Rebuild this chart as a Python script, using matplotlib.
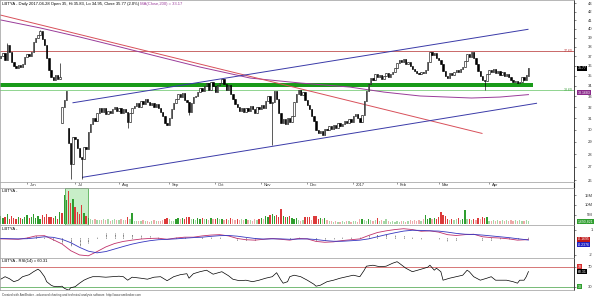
import matplotlib
matplotlib.use("Agg")
import matplotlib.pyplot as plt
import numpy as np
import pandas as pd
from matplotlib.patches import Rectangle
from matplotlib.transforms import blended_transform_factory

plt.rcParams['font.family'] = ['Liberation Sans', 'DejaVu Sans']

W, H = 600, 298

# trading calendar (NYSE holidays in the window)
holidays = ['2016-05-30', '2016-07-04', '2016-09-05', '2016-11-24', '2016-12-26',
            '2017-01-02', '2017-01-16', '2017-02-20', '2017-04-14']

# daily closes (2016-05-13 .. 2017-04-28)
close = [37.0, 37.3, 36.6, 38.2, 37.5,
         36.4, 36.0, 35.8, 36.1, 35.9, 36.2,
         36.9, 37.2, 37.0, 37.4,
         38.5, 39.0, 39.3, 39.8,
         38.9, 38.2, 36.8, 35.6,
         34.9, 34.6, 35.1, 34.7, 34.9,
         32.0, 32.7, 33.5, 28.9, 27.2,
         29.4, 29.2, 28.5, 27.8, 27.6, 28.6, 28.4, 29.8, 30.5, 31.0, 30.8, 31.5, 31.9,
         31.6, 31.9, 31.4, 31.7, 31.5, 31.8, 32.0,
         31.7, 31.9, 31.5, 31.8, 31.6,
         30.7, 31.5, 31.9,
         32.1, 32.4, 32.0, 32.6, 32.3, 32.8, 32.5, 32.2, 32.4, 32.0, 32.3, 31.9, 31.6,
         31.2, 30.6, 30.4, 31.0, 31.8, 32.4,
         32.8, 33.2, 32.9, 33.3, 32.7, 32.5, 31.6,
         32.4, 32.9, 33.0, 33.4, 33.8, 33.5, 34.0, 34.3,
         33.6, 34.4, 34.0, 33.4, 34.1, 34.3, 34.7,
         34.2, 33.6, 34.1, 33.2,
         32.8, 32.3, 32.0, 31.7, 31.9,
         31.6, 31.9, 31.7, 32.1, 31.8, 31.5, 32.0, 31.8, 32.2, 31.9,
         32.6, 33.0, 32.4, 32.5,
         33.5, 32.8, 31.5, 30.6,
         30.9, 30.5, 31.0, 30.7, 31.2,
         32.5, 33.2, 33.6, 33.1, 33.4, 32.7,
         32.2, 31.8, 31.2, 30.8,
         30.0, 29.7, 29.9, 29.6, 30.1,
         30.0, 30.3, 30.1, 30.4, 30.2, 30.6, 30.3, 30.5, 30.8, 30.6, 30.9, 30.7,
         31.2, 31.4, 31.0, 30.7, 31.3,
         32.6, 33.5, 34.2, 34.8, 34.6,
         35.2, 34.9, 35.1, 34.7, 35.0, 35.3, 34.9, 35.2, 35.4, 35.8,
         36.3, 36.6, 36.4, 36.7, 36.2, 36.4, 36.0,
         35.7, 35.5, 35.3, 35.2, 35.4, 35.3, 35.6,
         36.4, 37.5, 37.1,
         37.3, 36.8, 36.6, 36.2, 35.5, 35.0, 34.8,
         35.3, 35.1, 35.4, 35.6, 35.4, 35.7, 35.9,
         36.5, 37.2, 36.9, 37.4, 36.8, 36.2,
         35.5, 35.0, 34.6, 34.5,
         35.2, 35.6, 35.4, 35.7, 35.3, 35.5,
         35.1, 35.4, 35.0, 35.2, 34.9,
         34.6, 34.4, 34.5, 34.3, 34.4,
         34.9, 34.6, 35.1, 35.77]
# opens follow the previous close except on these gap days
open_fix = {0: 36.8, 28: 30.6, 31: 30.2, 241: 35.0}
high_fix = {3: 38.4, 18: 39.9, 27: 36.3, 241: 35.83}
low_fix = {32: 26.1, 37: 26.1, 58: 30.2, 86: 31.3, 124: 28.7, 221: 33.6, 241: 34.95}

# volume, millions of shares
volume = [4.5, 3.2, 3.8, 5.5, 3.0, 4.2, 3.5, 2.9, 4.0, 3.3, 2.9, 3.6, 4.8, 3.1,
          3.9, 5.2, 3.4, 4.4, 2.9, 4.6, 3.8, 5.6, 3.6, 4.0, 3.2, 4.1, 2.9, 6.5,
          6.0, 15.0, 12.5, 17.0, 11.0, 13.0, 9.0, 6.5, 5.5, 10.0, 6.0, 4.5, 3.5,
          2.6, 2.4, 2.7, 2.2, 2.5, 2.1, 2.7, 2.3, 2.6, 2.0, 2.4, 2.7, 2.1, 2.3, 2.7, 2.2, 2.5, 3.6, 2.6,
          5.7,
          2.0, 1.6, 1.8, 1.5, 2.2, 1.7, 1.9, 1.4, 1.8, 2.1, 1.6, 1.5, 1.9, 2.3, 2.8, 3.2, 2.6, 2.0, 1.8,
          2.9, 3.4, 2.6, 3.1, 2.8, 3.6, 3.9, 2.7, 3.0, 2.5, 3.3, 2.8, 3.5, 2.6, 3.0, 2.4, 3.2, 2.7, 2.9, 3.4, 2.6,
          2.8, 2.3, 3.0, 2.5, 3.3, 2.7, 2.2, 2.9, 2.4, 2.6, 2.1, 2.8, 2.3, 2.5, 2.0, 2.7, 2.4, 2.9, 3.2, 2.6,
          4.2, 3.8, 4.6, 5.2, 4.4, 4.8, 3.9, 7.8, 4.5, 4.0, 3.6, 4.3, 3.2, 2.9, 3.4,
          2.2, 1.9, 2.4, 3.6, 4.0, 3.8, 2.5, 4.3, 4.1, 3.0, 3.5, 2.6, 3.2, 2.3, 2.0,
          1.5, 1.2, 1.8, 1.4, 1.0, 1.6, 1.3, 1.9, 1.5, 1.1, 1.7, 2.0, 1.4,
          2.6, 3.0, 2.2, 1.8, 2.8, 2.4, 1.9, 2.5, 3.1, 2.0, 2.3, 1.7, 2.6,
          1.6, 1.2, 1.9, 1.4, 1.8, 1.1, 2.0, 1.5, 1.3, 1.7,
          2.2, 1.8, 2.5, 2.0, 2.4, 1.9, 2.6,
          4.6,
          3.0, 3.5, 2.6, 3.3, 2.8, 3.6,
          6.2, 4.6, 4.2,
          2.8, 2.4, 3.0, 2.2, 2.6, 3.1, 2.5, 2.9,
          7.2,
          2.6, 3.0, 2.3, 2.8, 2.5, 3.1, 2.7,
          3.6, 3.4, 3.8,
          2.0, 1.6, 2.3, 1.8, 2.2, 1.5, 2.4, 1.9, 2.1, 1.7, 2.5, 1.8, 2.2, 1.6, 2.4, 2.0, 1.7, 2.3, 1.69]

# 200-day moving average (bar index, value)
ma200_idx = [0, 18, 36, 54.5, 72.7, 91, 114, 137, 159.5, 175, 191.5, 215, 228, 241]
ma200 = [41.03, 40.11, 39.09, 37.99, 36.92, 35.88, 34.77, 34.28, 33.89, 33.41, 33.04, 32.85, 32.94, 33.17]

# drawn trend lines: (bar index, price) end points
red_trend_idx = [0, 219.8]
red_trend = [41.6, 29.7]
chan_hi_idx = [33.0, 240.8]
chan_hi = [32.41, 39.95]
chan_lo_idx = [37.4, 244.7]
chan_lo = [26.21, 32.36]
resist = 37.6
support = 33.6
band = (33.85, 34.27)
band_end = 243.0

# MACD(12,26) and signal(9)
macd_idx = list(range(0, 241, 4)) + [241]
macd = [-0.10, -0.12, -0.15, 0.00, 0.25, 0.28, -0.20, -0.70, -1.50, -2.00, -2.10, -1.60,
        -1.05, -0.65, -0.40, -0.25, -0.12, -0.05, -0.02, -0.15, 0.00, 0.10, 0.10, 0.25,
        0.35, 0.40, 0.25, -0.05, -0.20, -0.25, -0.15, -0.05, -0.15, -0.25, -0.05, -0.10,
        -0.40, -0.50, -0.45, -0.30, -0.20, -0.10, 0.30, 0.65, 0.85, 1.00, 1.10, 1.00,
        0.80, 0.85, 0.70, 0.40, 0.30, 0.40, 0.45, 0.15, 0.05, 0.00, -0.10, -0.25, -0.20, -0.17]
signal = [-0.05, -0.08, -0.10, -0.08, 0.02, 0.15, 0.08, -0.15, -0.55, -1.10, -1.55, -1.75,
          -1.60, -1.30, -1.00, -0.72, -0.50, -0.32, -0.20, -0.15, -0.10, -0.02, 0.05, 0.10,
          0.20, 0.28, 0.30, 0.22, 0.08, -0.05, -0.12, -0.10, -0.10, -0.15, -0.12, -0.10,
          -0.18, -0.30, -0.38, -0.38, -0.32, -0.25, -0.10, 0.15, 0.40, 0.62, 0.82, 0.92,
          0.90, 0.85, 0.82, 0.70, 0.55, 0.45, 0.42, 0.35, 0.25, 0.15, 0.05, -0.08, -0.20, -0.24]

# RSI(14)
rsi_idx = [0, 2, 4, 6, 8, 10, 13, 15, 17, 18, 20, 21, 23, 24, 26, 28, 29, 31, 32, 34, 36, 38,
           40, 42, 45, 48, 51, 54, 56, 58, 60, 64, 67, 70, 73, 76, 79, 82, 85, 86, 88, 91, 94,
           97, 101, 104, 106, 109, 112, 115, 118, 121, 124, 126, 128, 129, 131, 132, 134, 137,
           140, 143, 144, 146, 149, 152, 155, 158, 161, 164, 166, 167, 170, 173, 176, 179, 181,
           182, 185, 188, 192, 195, 196, 198, 199, 201, 202, 205, 208, 211, 213, 214, 216, 219,
           222, 224, 226, 228, 231, 234, 236, 237, 239, 240, 241]
rsi = [45, 50, 46, 40, 43, 50, 54, 60, 65, 62, 50, 40, 33, 31, 30, 31, 27, 23, 28, 30, 37, 43,
       47, 50, 50, 49, 50, 51, 50, 43, 49, 47, 45, 49, 50, 42, 50, 54, 56, 47, 56, 60, 63,
       55, 60, 52, 45, 42, 43, 40, 43, 47, 50, 58, 43, 37, 40, 50, 53, 50,
       43, 35, 31, 33, 40, 43, 47, 50, 53, 50, 63, 71, 73, 70, 71, 77, 80,
       77, 67, 60, 65, 69, 73, 63, 67, 60, 43, 47, 50, 53, 63, 60, 50, 43,
       47, 50, 43, 43, 43, 40, 37, 43, 43, 50, 60.31]

n = len(close)
x = np.arange(n)
c = np.array(close)
o = np.concatenate([[c[0]], c[:-1]])
for k, v in open_fix.items():
    o[k] = v
hi = np.maximum(o, c)
lo = np.minimum(o, c)
for k, v in high_fix.items():
    hi[k] = v
for k, v in low_fix.items():
    lo[k] = v

dates = pd.date_range(end='2017-04-28', periods=n,
                      freq=pd.offsets.CustomBusinessDay(holidays=holidays))
month_idx = [i for i in range(1, n) if dates[i].month != dates[i - 1].month]
month_lbl = [str(dates[i].year) if dates[i].month == 1 else dates[i].strftime('%b')
             for i in month_idx]

fig = plt.figure(figsize=(W / 100, H / 100), dpi=100)

def px_axes(y0, y1):
    return fig.add_axes([0, 1 - y1 / H, 574 / W, (y1 - y0) / H])

XLIM = (-0.32, 261.8)
FS = 3.0
GREY = '#9a9a9a'

def style(ax):
    ax.set_xlim(*XLIM)
    ax.set_xticks([])
    for s in ['top', 'bottom', 'left']:
        ax.spines[s].set_color(GREY)
        ax.spines[s].set_linewidth(0.5)
    ax.spines['right'].set_color('#202020')
    ax.spines['right'].set_linewidth(0.6)
    ax.yaxis.tick_right()
    ax.tick_params(axis='y', direction='out', length=1.5, width=0.4, pad=12,
                   labelsize=FS, colors='#303030')

def right_labels(ax):
    for lbl in ax.get_yticklabels():
        lbl.set_horizontalalignment('right')

def value_box(ax, y, txt, fc, tc='white', dy=0):
    tr = blended_transform_factory(ax.transAxes, ax.transData)
    ax.annotate(txt, xy=(1.0, y), xycoords=tr, xytext=(2.5, dy), textcoords='offset points',
                ha='left', va='center', fontsize=FS * 0.85, color=tc, annotation_clip=False,
                bbox=dict(boxstyle='square,pad=0.15', fc=fc, ec='none'))

def title(ypx, parts):
    t = fig.text(2 / W, 1 - ypx / H, parts[0][0], color=parts[0][1], fontsize=FS, va='center')
    for s, col in parts[1:]:
        t = ax_p.annotate(s, xy=(1, 0.5), xycoords=t, va='center', ha='left',
                          color=col, fontsize=FS, annotation_clip=False)

# ---- price panel
ax_p = px_axes(0, 182)
style(ax_p)
ax_p.set_yscale('log')
ax_p.set_ylim(25.86, 43.43)
ax_p.set_yticks(range(26, 44))
ax_p.set_yticklabels([str(v) for v in range(26, 44)])
ax_p.yaxis.set_minor_locator(matplotlib.ticker.NullLocator())
right_labels(ax_p)

ax_p.add_patch(Rectangle((XLIM[0], band[0]), band_end - XLIM[0], band[1] - band[0],
                         facecolor='#199a19', edgecolor='none', zorder=2))
ax_p.axhline(support, color='#8fd48f', lw=0.7, zorder=2)
ax_p.axhline(resist, color='#c05050', lw=0.6, zorder=2)
ax_p.plot(ma200_idx, ma200, color='#9a3c9a', lw=0.7, zorder=2.5)
ax_p.plot(red_trend_idx, red_trend, color='#d8505a', lw=0.7, zorder=2.5)
ax_p.plot(chan_hi_idx, chan_hi, color='#3a3aa8', lw=0.7, zorder=2.5)
ax_p.plot(chan_lo_idx, chan_lo, color='#3a3aa8', lw=0.7, zorder=2.5)

ax_p.vlines(x, lo, hi, color='black', lw=0.45, zorder=3)
up = c >= o
body = np.maximum(np.abs(c - o), 0.04)
ax_p.bar(x[up], body[up], bottom=o[up], width=0.62, facecolor='white',
         edgecolor='black', lw=0.4, zorder=4)
ax_p.bar(x[~up], body[~up], bottom=c[~up], width=0.62, facecolor='black',
         edgecolor='black', lw=0.4, zorder=4)

tr_p = blended_transform_factory(ax_p.transAxes, ax_p.transData)
ax_p.text(0.998, resist, f'{resist:.2f}', transform=tr_p, ha='right', va='center',
          fontsize=FS * 0.85, color='#c04040')
ax_p.text(0.998, support, f'{support:.2f}', transform=tr_p, ha='right', va='center',
          fontsize=FS * 0.85, color='#40a040')
value_box(ax_p, close[-1], f'{close[-1]:.2f}', 'black')
value_box(ax_p, ma200[-1], '33.1683', '#8a2a8a', dy=1.2)

# ---- date strip
ax_d = px_axes(182, 188)
ax_d.set_xlim(*XLIM)
ax_d.set_ylim(0, 1)
ax_d.set_yticks([])
for s in ['top', 'bottom', 'left']:
    ax_d.spines[s].set_color(GREY)
    ax_d.spines[s].set_linewidth(0.5)
ax_d.spines['right'].set_color('#202020')
ax_d.xaxis.tick_top()
ax_d.set_xticks(month_idx)
ax_d.set_xticklabels([])
ax_d.tick_params(axis='x', direction='in', length=1.5, width=0.4, colors='#404040')
for i, lbl in zip(month_idx, month_lbl):
    ax_d.annotate(lbl, xy=(i, 0.45), xytext=(2, 0), textcoords='offset points',
                  ha='left', va='center', fontsize=FS, color='#303030')

# ---- volume panel
ax_v = px_axes(188, 225)
style(ax_v)
ax_v.set_ylim(-0.3, 18.7)
ax_v.set_yticks([5, 10, 15])
ax_v.set_yticklabels(['5M', '10M', '15M'])
right_labels(ax_v)
ax_v.add_patch(Rectangle((29.4, -0.3), 10.5, 19.0, facecolor='#c8eec8',
                         edgecolor='#55b055', lw=0.6, zorder=0))
vol = np.array(volume)
prev = np.concatenate([[o[0]], c[:-1]])
vup = c >= prev
strong = vol >= 2.8
vcol = np.where(vup, np.where(strong, '#2f9e2f', '#a6d6a6'),
                np.where(strong, '#dc3a3a', '#eeaaaa'))
ax_v.bar(x, vol, width=0.6, color=vcol, zorder=2)
value_box(ax_v, vol[-1], '1,690,821', '#2f9e2f')

# ---- MACD panel
ax_m = px_axes(225, 258)
style(ax_m)
ax_m.set_ylim(-2.36, 1.54)
ax_m.set_yticks([1, -2])
ax_m.set_yticklabels(['1', '-2'])
right_labels(ax_m)
hist = np.array(macd) - np.array(signal)
ax_m.vlines(macd_idx, 0, hist, color='black', lw=0.5, linestyles=(0, (1, 1)), zorder=2)
ax_m.plot(macd_idx, macd, color='#c0306a', lw=0.6, zorder=3)
ax_m.plot(macd_idx, signal, color='#3535c0', lw=0.6, zorder=3)
value_box(ax_m, macd[-1], '-0.1695', '#c01818')
value_box(ax_m, signal[-1], '-0.2376', '#2020c0', dy=-3.2)

# ---- RSI panel
ax_r = px_axes(258, 290)
style(ax_r)
ax_r.set_ylim(23.4, 87.4)
ax_r.set_yticks([30, 70])
ax_r.set_yticklabels(['30', '70'])
right_labels(ax_r)
ax_r.axhline(70, color='#d06060', lw=0.6)
ax_r.axhline(30, color='#60b060', lw=0.6)
ax_r.plot(rsi_idx, rsi, color='black', lw=0.5)
value_box(ax_r, 70, '70', '#d83030')
value_box(ax_r, 30, '30', '#30a030')
value_box(ax_r, rsi[-1], f'{rsi[-1]:.2f}', 'black')

# ---- titles
title(3.5, [('LBTYA - Daily 2017-04-28 Open 35, Hi 35.83, Lo 34.95, Close 35.77 (2.0%)', 'black'),
            (' MA(Close,200) = 33.17', '#9a3c9a')])
title(191, [('LBTYA - ', 'black'), ('Volume', '#2f9e2f'), (' = 1,690,821.00', 'black')])
title(228.5, [('LBTYA - ', 'black'), ('MACD(12,26) = -0.17, ', '#c0306a'),
              ('Signal(12,26,9) = -0.24', '#3535c0')])
title(261, [('LBTYA - RSI(14) = 60.31', 'black')])

fig.text(2 / W, 1 - 295 / H,
         'Created with AmiBroker - advanced charting and technical analysis software. http://www.amibroker.com',
         fontsize=2.2, va='center', color='#404040')

fig.savefig('out.png', dpi=100)
